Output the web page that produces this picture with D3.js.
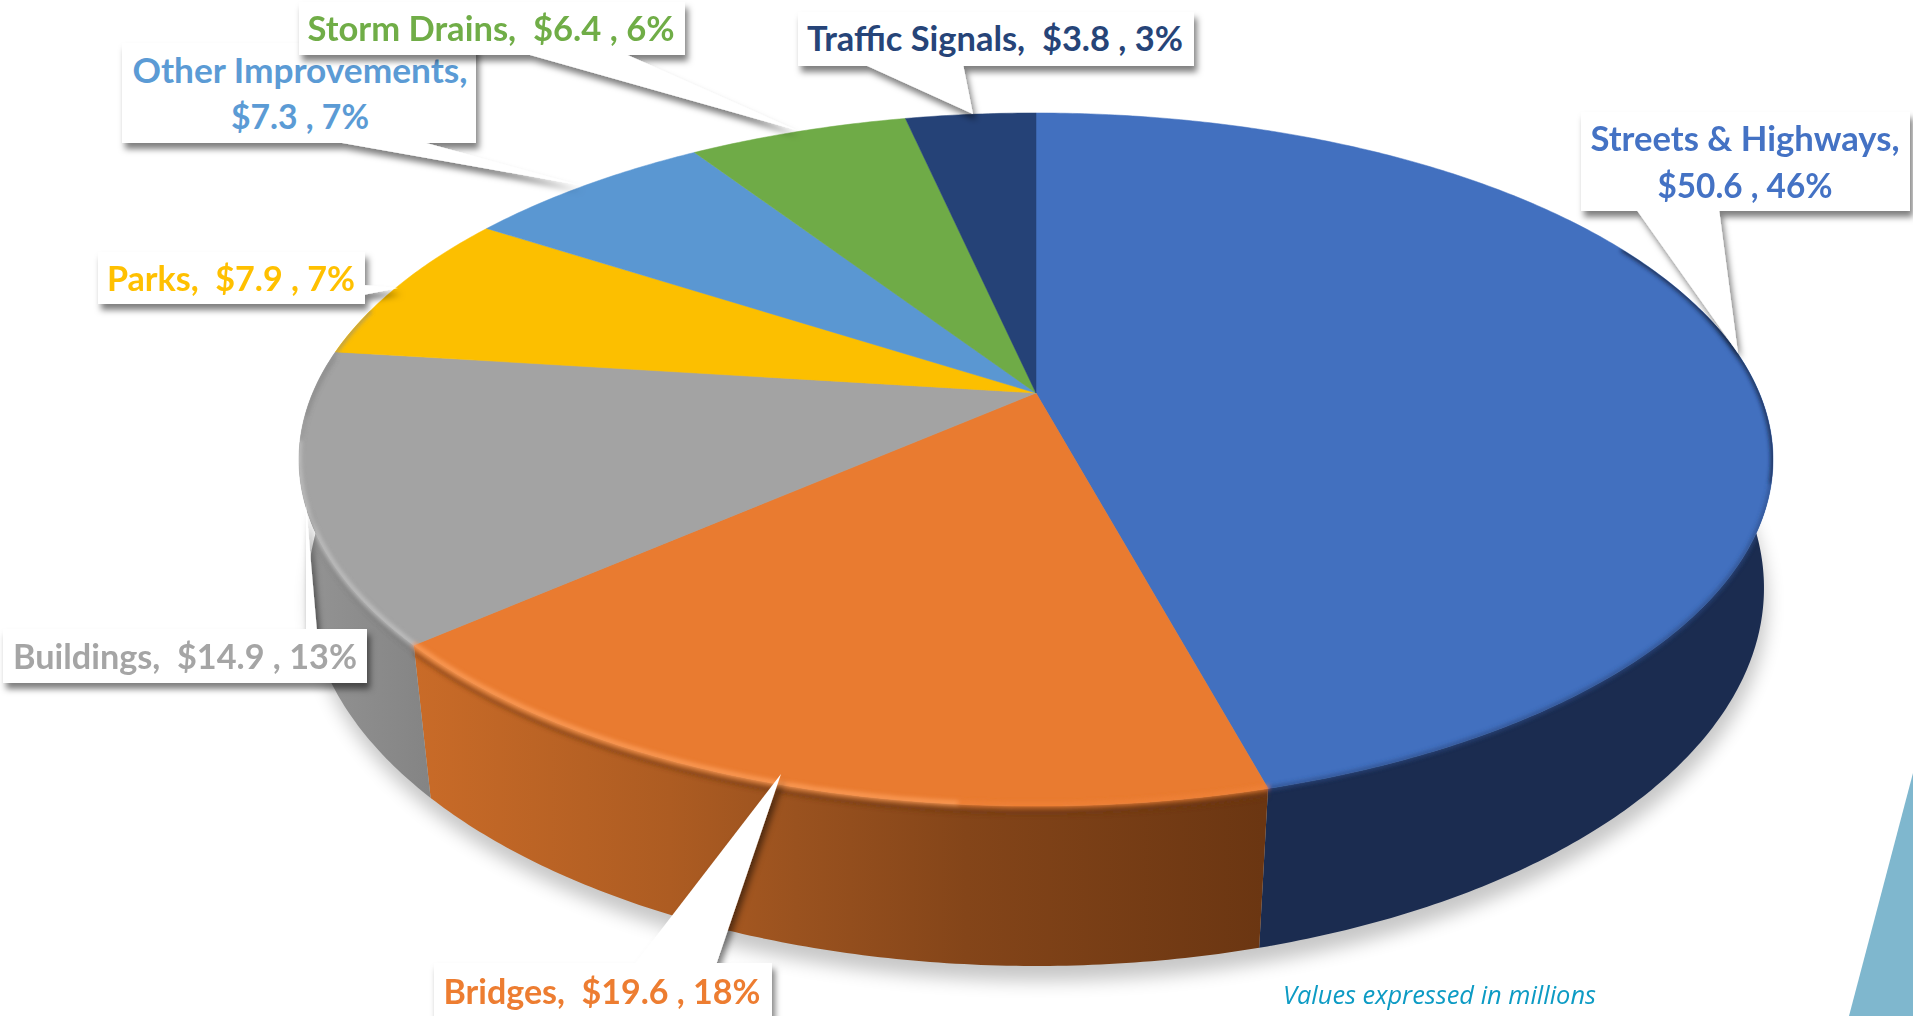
<!DOCTYPE html>
<html>
<head>
<meta charset="utf-8">
<script src="https://cdn.jsdelivr.net/npm/d3@7"></script>
<style>
  html, body { margin: 0; padding: 0; background: #fff; overflow: hidden; }
  svg { display: block; }
  .lbl { font-family: Lato, "Open Sans", sans-serif; font-weight: 700; font-size: 34px; }
  .note { font-family: "Open Sans", sans-serif; font-style: italic; font-size: 26px; fill: #0d9bc4; }
</style>
</head>
<body>
<div id="chart"></div>
<script>
var categories = ["Streets & Highways", "Bridges", "Buildings", "Parks", "Other Improvements", "Storm Drains", "Traffic Signals"];
var amounts = [50.6, 19.6, 14.9, 7.9, 7.3, 6.4, 3.8];
var percents = [46, 18, 13, 7, 7, 6, 3];
var topColors = ["#4270bf", "#e97b30", "#a3a3a3", "#fcbf00", "#5a97d2", "#6fab47", "#254277"];
var textColors = ["#4472c4", "#ed7d31", "#a5a5a5", "#ffc000", "#5b9bd5", "#70ad47", "#264478"];
var noteText = "Values expressed in millions";

var width = 1913, height = 1016;

// callout boxes, same order as categories. one or two text lines, wedge is base + tip
var boxes = [
  { x: 1581, y: 112, w: 329, h: 99, lines: [[1745, 151, 309], [1745, 198, 175]], wedge: [[1636, 209], [1719, 209], [1738, 353]] },
  { x: 434, y: 963, w: 338, h: 60, lines: [[602, 1004, 317]], wedge: [[634, 965], [716, 965], [781, 774]] },
  { x: 3, y: 629, w: 364, h: 54, lines: [[185, 669, 344]], wedge: [[306, 631], [317, 631], [306, 505]] },
  { x: 98, y: 252, w: 267, h: 52, lines: [[231, 291, 248]], wedge: [[363, 285], [363, 295], [398, 288]] },
  { x: 122, y: 43, w: 354, h: 100, lines: [[300, 83, 335], [300, 129, 138]], wedge: [[331, 141], [419, 141], [579, 185]] },
  { x: 299, y: 2, w: 386, h: 53, lines: [[491, 41, 367]], wedge: [[523, 53], [623, 53], [796, 130]] },
  { x: 798, y: 12, w: 396, h: 54, lines: [[995, 51, 376]], wedge: [[863, 64], [963, 64], [973, 114]] }
];

var cx = 1036;
// the disc is seen in perspective, so the centre sits above the middle of the ellipse
var topMap = { a: 723.3, b: 333.8, k: 0.192, y0: 393 };
var baseMap = { a: 718, b: 367.7, k: 0.165, y0: 525.6 };

function project(m, t) {
  var u = Math.sin(t), v = Math.cos(t), w = 1 + m.k * v;
  return [cx + m.a * u / w, m.y0 - m.b * v / w];
}

function arcPoints(m, a, b) {
  var n = Math.max(2, Math.ceil(Math.abs(b - a) / 0.01));
  return d3.range(n + 1).map(function (i) { return project(m, a + (b - a) * i / n); });
}

var rad = Math.PI / 180;
var line = d3.line();

var svg = d3.select("#chart").append("svg").attr("width", width).attr("height", height);
var defs = svg.append("defs");

function blur(id, sd) {
  defs.append("filter").attr("id", id)
    .attr("x", "-20%").attr("y", "-20%").attr("width", "140%").attr("height", "140%")
    .append("feGaussianBlur").attr("stdDeviation", sd);
}
blur("soft", 9);
blur("edge", 2.2);

var ds = defs.append("filter").attr("id", "boxShadow")
  .attr("filterUnits", "userSpaceOnUse")
  .attr("x", 0).attr("y", 0).attr("width", width).attr("height", height);
ds.append("feDropShadow").attr("dx", 3).attr("dy", 6).attr("stdDeviation", 3)
  .attr("flood-color", "#000").attr("flood-opacity", 0.5);

function sideGradient(id, stops) {
  var g = defs.append("linearGradient").attr("id", id)
    .attr("gradientUnits", "userSpaceOnUse")
    .attr("x1", 415).attr("x2", 1263).attr("y1", 0).attr("y2", 0);
  stops.forEach(function (s) {
    g.append("stop").attr("offset", s[0]).attr("stop-color", s[1]);
  });
}
sideGradient("orangeSide", [[0, "#c96b28"], [0.3, "#ad5c22"], [0.45, "#9a521f"], [0.65, "#844519"], [1, "#6b3612"]]);
defs.append("linearGradient").attr("id", "greySide")
  .attr("gradientUnits", "userSpaceOnUse")
  .attr("x1", 300).attr("x2", 430).attr("y1", 0).attr("y2", 0)
  .call(function (g) {
    g.append("stop").attr("offset", 0).attr("stop-color", "#949494");
    g.append("stop").attr("offset", 1).attr("stop-color", "#848484");
  });

var sideFill = ["#1b2c50", "url(#orangeSide)", "url(#greySide)"];

// teal corner shape from the slide behind the chart
svg.append("path")
  .attr("d", line([[1913, 773], [1849, 1016], [1913, 1016]]) + "Z")
  .attr("fill", "#7fb7ce");

var slices = d3.pie().sort(null).value(function (d) { return d; })(amounts);

// ground shadow
svg.append("path")
  .attr("d", line(arcPoints(baseMap, 0, 2 * Math.PI)) + "Z")
  .attr("transform", "translate(3,15)")
  .attr("fill", "#000").attr("opacity", 0.22)
  .attr("filter", "url(#soft)");

// side wall
var sideFrom = 75 * rad, sideTo = 285 * rad;
var sides = svg.append("g");
slices.forEach(function (s, i) {
  var a = Math.max(s.startAngle, sideFrom), b = Math.min(s.endAngle, sideTo);
  if (b <= a) return;
  sides.append("path")
    .attr("d", line(arcPoints(topMap, a, b).concat(arcPoints(baseMap, b, a))) + "Z")
    .attr("fill", sideFill[i] || topColors[i]);
});

// top face
var tops = svg.append("g");
slices.forEach(function (s, i) {
  tops.append("path")
    .attr("d", line([[cx, topMap.y0]].concat(arcPoints(topMap, s.startAngle, s.endAngle))) + "Z")
    .attr("fill", topColors[i])
    .attr("stroke", topColors[i]).attr("stroke-width", 0.5);
});

// bevel along the front rim, clipped to the disc
var clip = defs.append("clipPath").attr("id", "discClip");
clip.append("path").attr("d", line(arcPoints(topMap, 0, 2 * Math.PI)) + "Z");
clip.append("path").attr("d", line(arcPoints(topMap, sideFrom, sideTo).concat(arcPoints(baseMap, sideTo, sideFrom))) + "Z");

var bevel = svg.append("g").attr("clip-path", "url(#discClip)")
  .append("g").attr("filter", "url(#edge)").attr("fill", "none");

function rim(a, b, color, w, op, dy) {
  bevel.append("path")
    .attr("d", line(arcPoints(topMap, a, b)))
    .attr("transform", "translate(0," + (dy || 0) + ")")
    .attr("stroke", color).attr("stroke-width", w).attr("stroke-opacity", op);
}
var s0 = slices[0], s1 = slices[1], s2 = slices[2];
rim(62 * rad, 105 * rad, "#14233f", 4, 0.95, 0);
rim(105 * rad, s0.endAngle, "#2d4a84", 4, 0.8, 0);
rim(s1.startAngle, s1.endAngle, "#6b3510", 4, 0.55, 7);
rim(s1.startAngle, 185 * rad, "#f08238", 5, 0.9, -1);
rim(185 * rad, s1.endAngle, "#fb9a55", 5, 1, -1);
rim(s2.startAngle, s2.endAngle, "#5f5f5f", 3, 0.3, 6);
rim(s2.startAngle, 266 * rad, "#c6c6c6", 4, 0.9, -1);
rim(262 * rad, 285 * rad, "#8a8a8a", 4, 0.7, 0);

// callouts, drawn back to front so Storm Drains sits on Other Improvements
var drawOrder = [2, 3, 1, 0, 6, 4, 5];
drawOrder.forEach(function (i) {
  var b = boxes[i];
  var g = svg.append("g");
  var shape = g.append("g").attr("filter", "url(#boxShadow)");
  shape.append("rect").attr("x", b.x).attr("y", b.y).attr("width", b.w).attr("height", b.h).attr("fill", "#fff");
  shape.append("path").attr("d", line(b.wedge) + "Z").attr("fill", "#fff");

  var money = "$" + amounts[i].toFixed(1) + " , " + percents[i] + "%";
  var rows = b.lines.length === 2
    ? [categories[i] + ",", money]
    : [categories[i] + ",  " + money];
  rows.forEach(function (txt, j) {
    g.append("text").attr("class", "lbl")
      .attr("x", b.lines[j][0]).attr("y", b.lines[j][1])
      .attr("text-anchor", "middle")
      .attr("textLength", b.lines[j][2]).attr("lengthAdjust", "spacingAndGlyphs")
      .style("white-space", "pre")
      .attr("fill", textColors[i])
      .text(txt);
  });
});

svg.append("text").attr("class", "note")
  .attr("x", 1283).attr("y", 1004)
  .attr("textLength", 313).attr("lengthAdjust", "spacingAndGlyphs")
  .text(noteText);
</script>
</body>
</html>
